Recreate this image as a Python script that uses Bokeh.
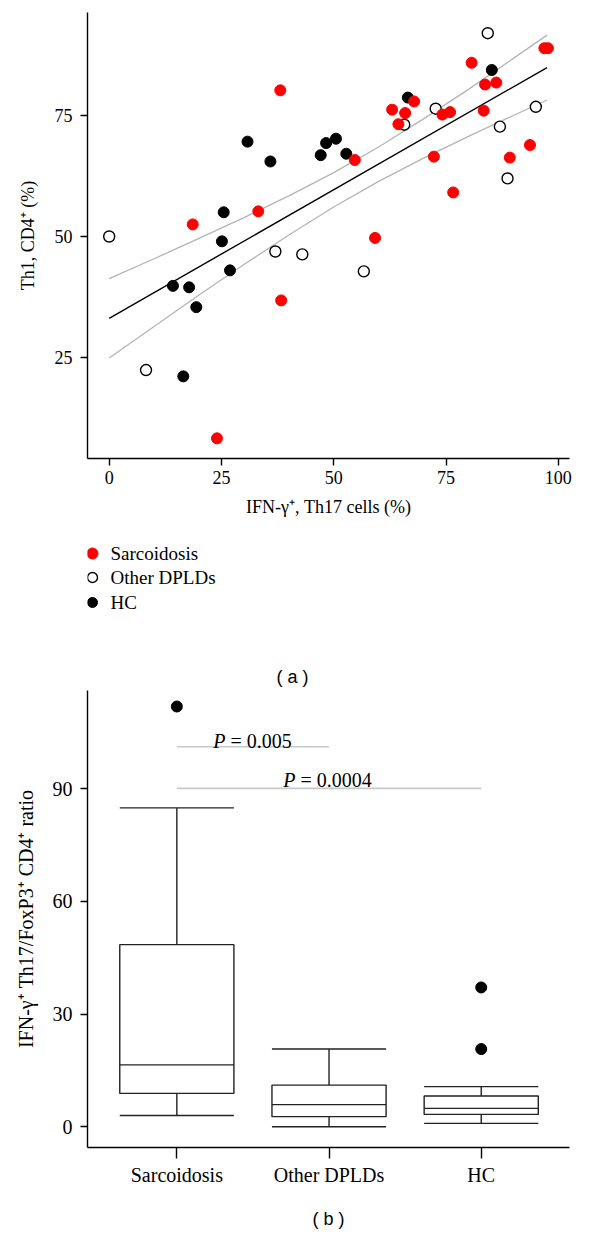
from bokeh.plotting import figure
from bokeh.models import Range1d, FixedTicker
from bokeh.layouts import column
from bokeh.embed import file_html
from bokeh.resources import INLINE
from bokeh.core.properties import value

# ---------------- data: panel (a) ----------------
sarc_x = [38.1, 18.6, 33.2, 24.0, 38.3, 54.7, 63.0, 65.9, 67.9, 64.4, 72.3, 74.2,
          75.9, 76.6, 80.7, 83.4, 83.7, 86.2, 89.2, 93.7, 96.9, 97.7, 59.2]
sarc_y = [80.2, 52.5, 55.2, 8.3, 36.8, 65.8, 76.2, 75.5, 77.9, 73.2, 66.5, 75.2,
          75.7, 59.1, 85.9, 76.0, 81.4, 81.8, 66.3, 68.9, 88.9, 88.9, 49.7]
other_x = [0.0, 8.2, 37.0, 43.0, 56.7, 65.7, 72.7, 84.3, 87.0, 88.7, 95.0]
other_y = [50.0, 22.4, 46.9, 46.3, 42.8, 73.1, 76.4, 92.0, 72.7, 62.0, 76.8]
hc_x = [30.8, 35.9, 25.5, 25.1, 14.2, 17.8, 19.4, 26.9, 16.5, 47.1, 48.3, 50.5,
        52.8, 66.5, 85.2]
hc_y = [69.6, 65.5, 55.0, 49.0, 39.8, 39.5, 35.4, 43.0, 21.1, 66.8, 69.3, 70.2,
        67.1, 78.7, 84.4]

fit_x = [0.0, 97.5]
fit_y = [33.1, 84.9]
band_x = [0, 10, 20, 30, 40, 50, 60, 70, 80, 90, 97.5]
band_upper = [41.3, 45.4, 49.6, 53.9, 58.4, 63.2, 68.5, 74.3, 80.4, 86.8, 91.6]
band_lower = [24.9, 31.4, 37.9, 44.2, 50.3, 56.1, 61.4, 66.2, 70.7, 75.0, 78.2]

x_ticks_a = [0, 25, 50, 75, 100]
y_ticks_a = [25, 50, 75]

legend_labels = ["Sarcoidosis", "Other DPLDs", "HC"]

# ---------------- data: panel (b) ----------------
groups = ["Sarcoidosis", "Other DPLDs", "HC"]
pos = [0, 1, 2]
whisk_lo = [3.0, 0.0, 0.9]
q1 = [8.9, 2.7, 3.3]
med = [16.5, 5.9, 4.9]
q3 = [48.5, 11.1, 8.2]
whisk_hi = [84.9, 20.7, 10.7]
out_pos = [0, 2, 2]
out_val = [111.9, 20.7, 37.1]
y_ticks_b = [0, 30, 60, 90]

p_texts = ["= 0.005", "= 0.0004"]
p_from = [0, 0]
p_to = [1, 2]
p_line_y = [101.2, 90.1]

SERIF = "Liberation Serif"
SANS = "Liberation Sans"
RED = "#ff0000"
BL, BR = 87, 15   # common left/right borders (frames are aligned in the column)

# ---------------- figure (a) ----------------
pa = figure(width=584, height=540, x_range=Range1d(-4.83, 102.5),
            y_range=Range1d(4.13, 96.28), output_backend="svg",
            toolbar_location=None, min_border_left=BL, min_border_right=BR,
            min_border_top=12, min_border_bottom=82)
pa.grid.grid_line_color = None
pa.outline_line_color = None

pa.line(band_x, band_upper, line_color="#b4b4b4", line_width=1.3)
pa.line(band_x, band_lower, line_color="#b4b4b4", line_width=1.3)
pa.line(fit_x, fit_y, line_color="black", line_width=1.4)

pa.scatter(other_x, other_y, size=11, fill_color="white", line_color="black", line_width=1.4)
pa.scatter(hc_x, hc_y, size=11, fill_color="black", line_color="black")
pa.scatter(sarc_x, sarc_y, size=11, fill_color=RED, line_color=RED)

pa.xaxis.ticker = FixedTicker(ticks=x_ticks_a)
pa.yaxis.ticker = FixedTicker(ticks=y_ticks_a)
pa.xaxis.axis_label = "IFN-γ⁺, Th17 cells (%)"
pa.yaxis.axis_label = "Th1, CD4⁺ (%)"
for ax in (pa.xaxis, pa.yaxis):
    ax.axis_line_color = "black"
    ax.axis_line_width = 1.4
    ax.major_tick_line_color = "black"
    ax.major_tick_line_width = 1.4
    ax.major_tick_out = 7
    ax.major_tick_in = 0
    ax.minor_tick_line_color = None
    ax.major_label_text_font = SERIF
    ax.major_label_text_font_size = "18px"
    ax.major_label_text_color = "black"
    ax.axis_label_text_font = SERIF
    ax.axis_label_text_font_size = "18px"
    ax.axis_label_text_font_style = "normal"
    ax.axis_label_text_color = "black"
pa.xaxis.major_label_standoff = 5
pa.yaxis.major_label_standoff = 8
pa.xaxis.axis_label_standoff = 10
pa.yaxis.axis_label_standoff = 14

# ---------------- legend strip with panel caption ----------------
pl = figure(width=584, height=150, x_range=Range1d(95, 577), y_range=Range1d(698, 548),
            output_backend="svg", toolbar_location=None, x_axis_type=None,
            y_axis_type=None, min_border_left=BL, min_border_right=BR,
            min_border_top=0, min_border_bottom=0)
pl.grid.grid_line_color = None
pl.outline_line_color = None
leg_x = [100, 100, 100]
leg_y = [561, 585, 610]
pl.scatter(leg_x[0:1], leg_y[0:1], size=11, fill_color=RED, line_color=RED)
pl.scatter(leg_x[1:2], leg_y[1:2], size=10, fill_color="white", line_color="black", line_width=1.4)
pl.scatter(leg_x[2:3], leg_y[2:3], size=10, fill_color="black", line_color="black")
pl.text(x=[118, 118, 118], y=leg_y, text=legend_labels, text_font=value(SERIF),
        text_font_size=value("19px"), text_baseline="middle", text_align="left",
        text_color="black")
pl.text(x=[300], y=[684], text=["( a )"], text_font=value(SANS),
        text_font_size=value("18px"), text_baseline="middle", text_align="center",
        text_color="black")

# ---------------- figure (b) ----------------
pb = figure(width=584, height=541, x_range=Range1d(-0.587, 2.580),
            y_range=Range1d(-5.51, 116.16), output_backend="svg",
            toolbar_location=None, min_border_left=BL, min_border_right=BR,
            min_border_top=0, min_border_bottom=84)
pb.grid.grid_line_color = None
pb.outline_line_color = None

hw = 0.375
left = [p - hw for p in pos]
right = [p + hw for p in pos]
BOX = "#222222"
pb.segment(pos, q3, pos, whisk_hi, line_color=BOX, line_width=1.4)
pb.segment(pos, q1, pos, whisk_lo, line_color=BOX, line_width=1.4)
pb.segment(left, whisk_hi, right, whisk_hi, line_color=BOX, line_width=1.4)
pb.segment(left, whisk_lo, right, whisk_lo, line_color=BOX, line_width=1.4)
pb.quad(left=left, right=right, bottom=q1, top=q3, fill_color="white",
        line_color=BOX, line_width=1.4)
pb.segment(left, med, right, med, line_color=BOX, line_width=1.4)
pb.scatter(out_pos, out_val, size=11, fill_color="black", line_color="black")

# significance lines
pb.segment(p_from, p_line_y, p_to, p_line_y, line_color="#c8c8c8", line_width=1.6)
p_anchor_x = [0.32, 0.78]
p_text_y = [102.7, 92.4]
pb.text(x=p_anchor_x, y=p_text_y, text=["P", "P"], text_font=value(SERIF),
        text_font_size=value("20px"), text_font_style="italic", text_align="right",
        text_baseline="alphabetic", text_color="black")
pb.text(x=p_anchor_x, y=p_text_y, text=p_texts, text_font=value(SERIF),
        text_font_size=value("20px"), text_align="left", x_offset=5,
        text_baseline="alphabetic", text_color="black")

pb.xaxis.ticker = FixedTicker(ticks=pos)
pb.xaxis.major_label_overrides = {p: g for p, g in zip(pos, groups)}
pb.yaxis.ticker = FixedTicker(ticks=y_ticks_b)
pb.yaxis.axis_label = "IFN-γ⁺ Th17/FoxP3⁺ CD4⁺ ratio"
pb.xaxis.axis_label = "( b )"
for ax in (pb.xaxis, pb.yaxis):
    ax.axis_line_color = "black"
    ax.axis_line_width = 1.4
    ax.major_tick_line_color = "black"
    ax.major_tick_line_width = 1.4
    ax.major_tick_in = 0
    ax.minor_tick_line_color = None
    ax.major_label_text_font = SERIF
    ax.major_label_text_font_size = "20px"
    ax.major_label_text_color = "black"
    ax.axis_label_text_font = SERIF
    ax.axis_label_text_font_size = "20px"
    ax.axis_label_text_font_style = "normal"
    ax.axis_label_text_color = "black"
pb.xaxis.major_tick_out = 11
pb.yaxis.major_tick_out = 7
pb.xaxis.major_label_standoff = 5
pb.yaxis.major_label_standoff = 8
pb.yaxis.axis_label_standoff = 13
pb.xaxis.axis_label_text_font = SANS
pb.xaxis.axis_label_text_font_size = "18px"
pb.xaxis.axis_label_standoff = 20

layout = column(pa, pl, pb, spacing=0)
open("out.html", "w").write(file_html(layout, INLINE))
